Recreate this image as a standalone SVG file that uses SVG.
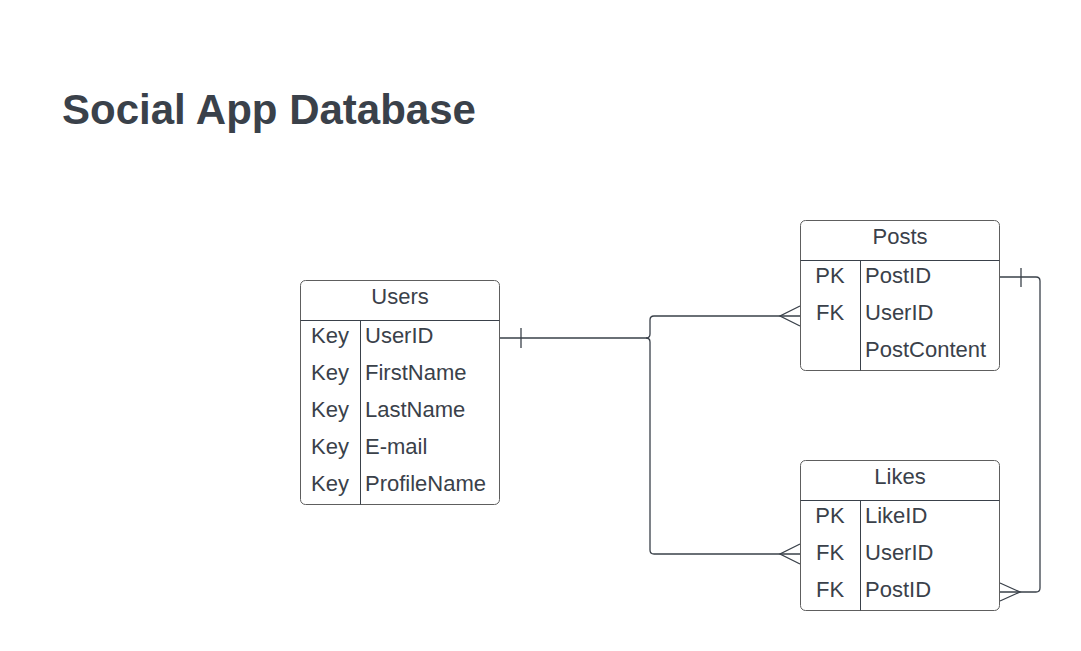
<svg xmlns="http://www.w3.org/2000/svg" width="1081" height="651" viewBox="0 0 1081 651">
<style>
  .box{fill:#fff;stroke:#5e5e5e;stroke-width:1}
  .div{stroke:#3a414a;stroke-width:1;fill:none}
  .t{font-family:"Liberation Sans",Arial,sans-serif;font-size:22px;fill:#3a414a}
  .c{text-anchor:middle}
  .title{font-family:"Liberation Sans",Arial,sans-serif;font-size:42px;font-weight:bold;fill:#3a414a}
  .ln{stroke:#3a414a;stroke-width:1.3;fill:none}
</style>
<rect width="1081" height="651" fill="#fff"/>
<text class="title" x="62" y="124">Social App Database</text>

<g id="connectors">
  <path class="ln" d="M500,338 H646 Q650,338 650,334 V320 Q650,316 654,316 H800"/>
  <path class="ln" d="M646,338 Q650,338 650,342 V550 Q650,554 654,554 H800"/>
  <path class="ln" d="M521,328 V348"/>
  <path class="ln" d="M800,306 L780,316 L800,326"/>
  <path class="ln" d="M800,544 L780,554 L800,564"/>
  <path class="ln" d="M1000,277 H1036 Q1040,277 1040,281 V588 Q1040,592 1036,592 H1000"/>
  <path class="ln" d="M1021,268 V287"/>
  <path class="ln" d="M1000,583 L1020,592 L1000,601"/>
</g>

<g id="users">
  <rect class="box" x="300.5" y="280.5" width="199" height="224" rx="5"/>
  <path class="div" d="M300.5,320.5 H499.5 M360.5,320.5 V504.5"/>
  <text class="t c" x="400" y="304">Users</text>
  <text class="t c" x="330" y="343">Key</text><text class="t" x="365" y="343">UserID</text>
  <text class="t c" x="330" y="380">Key</text><text class="t" x="365" y="380">FirstName</text>
  <text class="t c" x="330" y="417">Key</text><text class="t" x="365" y="417">LastName</text>
  <text class="t c" x="330" y="454">Key</text><text class="t" x="365" y="454">E-mail</text>
  <text class="t c" x="330" y="491">Key</text><text class="t" x="365" y="491">ProfileName</text>
</g>

<g id="posts">
  <rect class="box" x="800.5" y="220.5" width="199" height="150" rx="5"/>
  <path class="div" d="M800.5,260.5 H999.5 M860.5,260.5 V370.5"/>
  <text class="t c" x="900" y="244">Posts</text>
  <text class="t c" x="830" y="283">PK</text><text class="t" x="865" y="283">PostID</text>
  <text class="t c" x="830" y="320">FK</text><text class="t" x="865" y="320">UserID</text>
  <text class="t" x="865" y="357">PostContent</text>
</g>

<g id="likes">
  <rect class="box" x="800.5" y="460.5" width="199" height="150" rx="5"/>
  <path class="div" d="M800.5,500.5 H999.5 M860.5,500.5 V610.5"/>
  <text class="t c" x="900" y="484">Likes</text>
  <text class="t c" x="830" y="523">PK</text><text class="t" x="865" y="523">LikeID</text>
  <text class="t c" x="830" y="560">FK</text><text class="t" x="865" y="560">UserID</text>
  <text class="t c" x="830" y="597">FK</text><text class="t" x="865" y="597">PostID</text>
</g>
</svg>
